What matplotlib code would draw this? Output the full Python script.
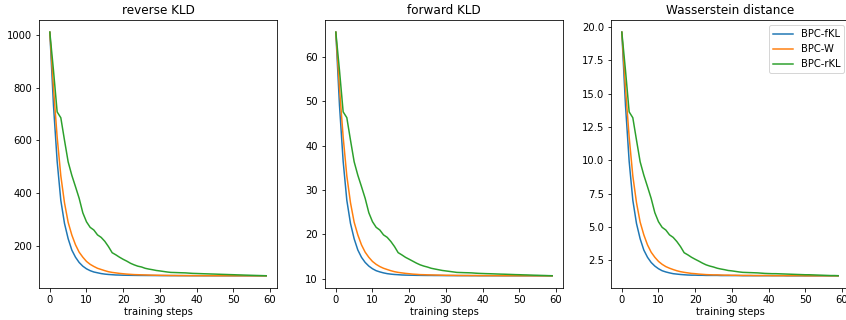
import numpy as np
import matplotlib
matplotlib.use('Agg')
import matplotlib.pyplot as plt

# values, training steps 0..59
steps = np.arange(60)
labels = ['BPC-fKL', 'BPC-W', 'BPC-rKL']
titles = ['reverse KLD', 'forward KLD', 'Wasserstein distance']

rkl_fkl = [1010, 733, 521, 373, 286, 228, 185, 158, 138, 124,
           114, 107, 102, 99, 96, 94, 92.6, 91.7, 90.7, 90.3,
           89.8, 89.6, 89.4, 89.2, 89.0, 88.9, 88.8, 88.7, 88.6, 88.5,
           88.4, 88.3, 88.3, 88.2, 88.2, 88.1, 88.1, 88.0, 88.0, 87.9,
           87.9, 87.9, 87.8, 87.8, 87.8, 87.7, 87.7, 87.7, 87.7, 87.6,
           87.6, 87.6, 87.6, 87.6, 87.5, 87.5, 87.5, 87.5, 87.5, 87.5]
rkl_w = [1010, 798, 613, 466, 364, 290, 242, 205, 177, 158,
         142, 131, 123, 116, 111.5, 107, 103, 100.4, 98.6, 96.7,
         95.3, 94.0, 93.0, 92.1, 91.7, 91.2, 90.8, 90.4, 90.0, 89.7,
         89.4, 89.2, 89.0, 88.8, 88.7, 88.5, 88.4, 88.3, 88.2, 88.1,
         88.0, 88.0, 87.9, 87.9, 87.8, 87.8, 87.8, 87.7, 87.7, 87.7,
         87.6, 87.6, 87.6, 87.6, 87.5, 87.5, 87.5, 87.5, 87.5, 87.5]
rkl_rkl = [1010, 865, 708, 686, 601, 519, 468, 425, 381, 326,
           292, 271, 261, 242.5, 233, 218, 198, 175, 167, 158,
           150, 143, 135, 129, 124, 121, 116, 113, 110.6, 107.8,
           106, 104, 102, 100.4, 100, 99.5, 99, 98.6, 97.6, 96.7,
           96.3, 95.8, 95.3, 94.9, 94.4, 94.0, 93.5, 93.0, 92.6, 92.1,
           91.7, 91.2, 90.8, 90.3, 89.9, 89.4, 89.0, 88.6, 88.2, 87.8]

fkl_fkl = [65.5, 49.06, 36.46, 27.69, 22.48, 19.03, 16.51, 14.86, 13.71, 12.89,
           12.29, 11.85, 11.58, 11.36, 11.19, 11.08, 11.00, 10.95, 10.89, 10.86,
           10.84, 10.83, 10.81, 10.80, 10.79, 10.78, 10.78, 10.77, 10.77, 10.76,
           10.75, 10.75, 10.75, 10.74, 10.74, 10.74, 10.74, 10.73, 10.73, 10.72,
           10.72, 10.72, 10.72, 10.72, 10.72, 10.71, 10.71, 10.71, 10.71, 10.71,
           10.71, 10.71, 10.71, 10.71, 10.70, 10.70, 10.70, 10.70, 10.70, 10.70]
fkl_w = [65.5, 52.9, 41.94, 33.17, 27.14, 22.76, 19.91, 17.66, 16.02, 14.86,
         13.93, 13.28, 12.78, 12.40, 12.12, 11.85, 11.63, 11.47, 11.36, 11.25,
         11.17, 11.08, 11.03, 10.97, 10.95, 10.92, 10.90, 10.88, 10.86, 10.84,
         10.82, 10.81, 10.80, 10.79, 10.78, 10.77, 10.77, 10.76, 10.76, 10.75,
         10.74, 10.74, 10.74, 10.73, 10.73, 10.73, 10.72, 10.72, 10.72, 10.72,
         10.71, 10.71, 10.71, 10.71, 10.70, 10.70, 10.70, 10.70, 10.70, 10.70]
fkl_rkl = [65.5, 56.9, 47.58, 46.27, 41.22, 36.35, 33.33, 30.76, 28.13, 24.89,
           22.87, 21.61, 21.0, 19.91, 19.36, 18.43, 17.28, 15.91, 15.41, 14.86,
           14.43, 13.99, 13.55, 13.17, 12.89, 12.67, 12.40, 12.23, 12.07, 11.91,
           11.80, 11.69, 11.58, 11.47, 11.44, 11.41, 11.39, 11.36, 11.30, 11.25,
           11.22, 11.19, 11.17, 11.14, 11.11, 11.08, 11.06, 11.03, 11.00, 10.97,
           10.95, 10.92, 10.90, 10.87, 10.84, 10.82, 10.79, 10.77, 10.74, 10.72]

w_fkl = [19.6, 14.13, 9.93, 7.01, 5.27, 4.12, 3.28, 2.74, 2.35, 2.08,
         1.88, 1.73, 1.64, 1.57, 1.51, 1.48, 1.45, 1.43, 1.41, 1.40,
         1.40, 1.39, 1.39, 1.38, 1.38, 1.38, 1.38, 1.37, 1.37, 1.37,
         1.37, 1.37, 1.37, 1.36, 1.36, 1.36, 1.36, 1.36, 1.36, 1.36,
         1.36, 1.36, 1.36, 1.36, 1.36, 1.35, 1.35, 1.35, 1.35, 1.35,
         1.35, 1.35, 1.35, 1.35, 1.35, 1.35, 1.35, 1.35, 1.35, 1.35]
w_w = [19.6, 15.4, 11.75, 8.83, 6.83, 5.37, 4.42, 3.67, 3.12, 2.74,
       2.43, 2.21, 2.04, 1.92, 1.82, 1.73, 1.66, 1.61, 1.57, 1.53,
       1.51, 1.48, 1.46, 1.44, 1.43, 1.42, 1.42, 1.41, 1.40, 1.40,
       1.39, 1.39, 1.38, 1.38, 1.38, 1.38, 1.37, 1.37, 1.37, 1.37,
       1.37, 1.36, 1.36, 1.36, 1.36, 1.36, 1.36, 1.36, 1.36, 1.36,
       1.35, 1.35, 1.35, 1.35, 1.35, 1.35, 1.35, 1.35, 1.35, 1.35]
w_rkl = [19.6, 16.74, 13.63, 13.19, 11.52, 9.89, 8.89, 8.03, 7.15, 6.08,
         5.40, 4.98, 4.78, 4.42, 4.23, 3.92, 3.54, 3.08, 2.92, 2.74,
         2.59, 2.45, 2.30, 2.17, 2.08, 2.01, 1.92, 1.86, 1.81, 1.75,
         1.72, 1.68, 1.64, 1.61, 1.60, 1.59, 1.58, 1.57, 1.55, 1.53,
         1.52, 1.51, 1.51, 1.50, 1.49, 1.48, 1.47, 1.46, 1.45, 1.44,
         1.43, 1.43, 1.42, 1.41, 1.40, 1.39, 1.38, 1.37, 1.37, 1.36]

panels = [
    [rkl_fkl, rkl_w, rkl_rkl],
    [fkl_fkl, fkl_w, fkl_rkl],
    [w_fkl, w_w, w_rkl],
]

W, H = 846, 320
fig = plt.figure(figsize=(W / 72, H / 72), dpi=72)
lefts = [39, 325, 611]
for i, (left, series) in enumerate(zip(lefts, panels)):
    ax = fig.add_axes([left / W, 32 / H, 238 / W, 268 / H])
    for vals, lab in zip(series, labels):
        ax.plot(steps, vals, label=lab)
    ax.set_title(titles[i])
    ax.set_xlabel('training steps', labelpad=2)
    ax.set_xticks([0, 10, 20, 30, 40, 50, 60])
    if i == 2:
        ax.legend(loc='upper right')

fig.savefig('out.png', dpi=72)
